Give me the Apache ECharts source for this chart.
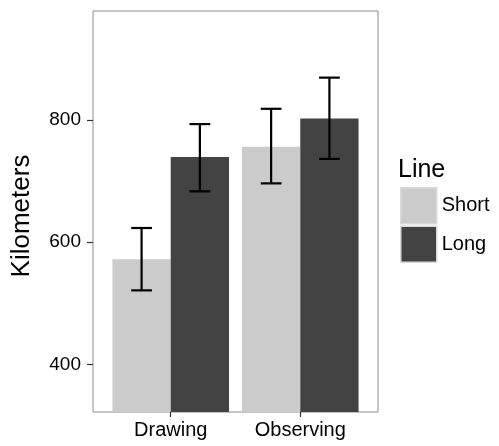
<!DOCTYPE html>
<html>
<head>
<meta charset="utf-8">
<script src="https://cdn.jsdelivr.net/npm/echarts@6/dist/echarts.min.js"></script>
<style>
  html, body { margin: 0; padding: 0; background: #fff; }
  #chart { width: 499px; height: 446px; }
</style>
</head>
<body>
<div id="chart"></div>
<script>
// categories sit at x = 1, 2 on a value axis (ggplot style padding)
const categories = ['Drawing', 'Observing']
const categoryPos = [1, 2]
const yTicks = [400, 600, 800]

const shortMean = [572, 756]
const shortLow = [521, 696]
const shortHigh = [623, 818]

const longMean = [739, 802]
const longLow = [683, 736]
const longHigh = [793, 869]

const FONT = 'Liberation Sans'

const chart = echarts.init(document.getElementById('chart'))

// error bars drawn through the axis scale, shifted half a bar left/right
const errorBar = (shift) => (params, api) => {
  const x = api.value(0) + shift
  const lo = api.coord([x, api.value(1)])
  const hi = api.coord([x, api.value(2)])
  const half = api.size([0.08, 0])[0]
  const style = { stroke: '#000', lineWidth: 2.2 }
  return {
    type: 'group',
    children: [
      { type: 'line', shape: { x1: lo[0], y1: lo[1], x2: hi[0], y2: hi[1] }, style },
      { type: 'line', shape: { x1: hi[0] - half, y1: hi[1], x2: hi[0] + half, y2: hi[1] }, style },
      { type: 'line', shape: { x1: lo[0] - half, y1: lo[1], x2: lo[0] + half, y2: lo[1] }, style }
    ]
  }
}

const option = {
  animation: false,
  textStyle: { fontFamily: FONT },
  title: {
    text: 'Line',
    left: 398,
    top: 158,
    padding: 0,
    textStyle: { fontFamily: FONT, fontSize: 25, fontWeight: 'normal', color: '#000' }
  },
  legend: {
    data: ['Short', 'Long'],
    orient: 'vertical',
    left: 400,
    top: 187,
    padding: 0,
    itemGap: 1,
    itemWidth: 36,
    itemHeight: 36,
    icon: 'rect',
    itemStyle: { borderColor: '#d9d9d9', borderWidth: 1.5 },
    textStyle: { fontFamily: FONT, fontSize: 20, color: '#000' }
  },
  grid: {
    left: 93,
    right: 121,
    top: 11,
    bottom: 34,
    show: true,
    borderColor: '#8c8c8c',
    borderWidth: 1,
    backgroundColor: '#fff'
  },
  xAxis: {
    type: 'value',
    min: 0.4,
    max: 2.6,
    splitLine: { show: false },
    axisLine: { show: false },
    axisTick: { show: true, length: 5, customValues: categoryPos, lineStyle: { color: '#333', width: 1.2 } },
    axisLabel: {
      customValues: categoryPos,
      formatter: (v) => categories[categoryPos.indexOf(v)],
      fontSize: 20,
      color: '#000',
      margin: 8
    }
  },
  yAxis: {
    type: 'value',
    min: 322,
    max: 978,
    name: 'Kilometers',
    nameLocation: 'middle',
    nameGap: 58,
    nameTextStyle: { fontSize: 26, color: '#000', padding: [0, 9, 0, 0] },
    splitLine: { show: false },
    axisLine: { show: false },
    axisTick: { show: true, length: 6, customValues: yTicks, lineStyle: { color: '#333', width: 1.2 } },
    axisLabel: { customValues: yTicks, fontSize: 19, color: '#000', margin: 12 }
  },
  series: [
    {
      name: 'Short',
      type: 'bar',
      barWidth: '45%',
      barGap: '0%',
      itemStyle: { color: '#cbcbcb' },
      data: categoryPos.map((c, i) => [c, shortMean[i]])
    },
    {
      name: 'Long',
      type: 'bar',
      barWidth: '45%',
      barGap: '0%',
      itemStyle: { color: '#434343' },
      data: categoryPos.map((c, i) => [c, longMean[i]])
    },
    {
      type: 'custom',
      renderItem: errorBar(-0.225),
      encode: { x: 0, y: [1, 2] },
      z: 5,
      data: categoryPos.map((c, i) => [c, shortLow[i], shortHigh[i]])
    },
    {
      type: 'custom',
      renderItem: errorBar(0.225),
      encode: { x: 0, y: [1, 2] },
      z: 5,
      data: categoryPos.map((c, i) => [c, longLow[i], longHigh[i]])
    }
  ]
}

chart.setOption(option)
</script>
</body>
</html>
